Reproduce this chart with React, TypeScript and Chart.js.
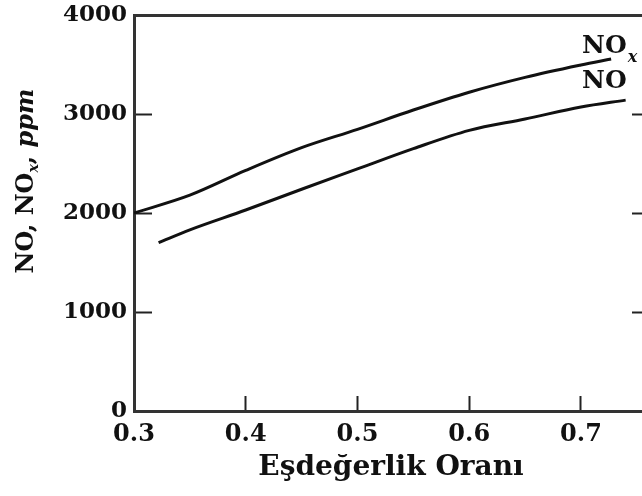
import { useEffect, useRef } from "react";
import { Chart, registerables } from "chart.js";

Chart.register(...registerables);

// ---- data ----
const X_TICKS = [0.3, 0.4, 0.5, 0.6, 0.7];
const Y_TICKS = [0, 1000, 2000, 3000, 4000];

const NOX_PHI = [0.3, 0.35, 0.4, 0.45, 0.5, 0.55, 0.6, 0.65, 0.7, 0.727];
const NOX_PPM = [2000, 2180, 2430, 2660, 2845, 3040, 3220, 3370, 3495, 3556];

const NO_PHI = [0.322, 0.35, 0.4, 0.45, 0.5, 0.55, 0.6, 0.65, 0.7, 0.74];
const NO_PPM = [1700, 1830, 2030, 2240, 2445, 2650, 2835, 2950, 3070, 3140];

const X_TITLE = "Eşdeğerlik Oranı";
const Y_TITLE_MAIN = "NO, NO";
const Y_TITLE_SUB = "x";
const Y_TITLE_SEP = ", ";
const Y_TITLE_UNIT = "ppm";
const SERIES_MAIN = "NO";
const SERIES_SUB = "x";

// label anchors (data space)
const LABEL_PHI = 0.701;
const NOX_LABEL_PPM = 3616;
const NO_LABEL_PPM = 3263;

const X_MIN = 0.3;
const X_MAX = 0.76;
const Y_MIN = 0;
const Y_MAX = 4000;

const SERIF = "'DejaVu Serif', 'Liberation Serif', serif";
const INK = "#111";
const AXIS = "#333";
const TICK = "#222";

const noPad = (s: any) => {
  s.paddingTop = 0;
  s.paddingBottom = 0;
  s.paddingLeft = 0;
  s.paddingRight = 0;
};

const annotate = {
  id: "annotate",
  afterDraw(chart: any) {
    const { ctx, scales, chartArea } = chart;
    const xs = scales.x;
    const ys = scales.y;
    ctx.save();
    ctx.fillStyle = INK;
    ctx.textAlign = "left";
    ctx.textBaseline = "alphabetic";

    // series labels near line ends
    const lx = xs.getPixelForValue(LABEL_PHI);
    const yNox = ys.getPixelForValue(NOX_LABEL_PPM);
    const yNo = ys.getPixelForValue(NO_LABEL_PPM);
    ctx.font = `bold 25px ${SERIF}`;
    ctx.fillText(SERIES_MAIN, lx, yNox);
    const w = ctx.measureText(SERIES_MAIN).width;
    ctx.font = `italic bold 16px ${SERIF}`;
    ctx.fillText(SERIES_SUB, lx + w + 1, yNox + 9);
    ctx.font = `bold 25px ${SERIF}`;
    ctx.fillText(SERIES_MAIN, lx, yNo);

    // rotated y title
    const fMain = `bold 24px ${SERIF}`;
    const fSub = `italic bold 14px ${SERIF}`;
    const fUnit = `italic bold 24px ${SERIF}`;
    const parts = [
      { t: Y_TITLE_MAIN, f: fMain, dy: 0 },
      { t: Y_TITLE_SUB, f: fSub, dy: 5 },
      { t: Y_TITLE_SEP, f: fMain, dy: 0 },
      { t: Y_TITLE_UNIT, f: fUnit, dy: 0 },
    ];
    let total = 0;
    const widths = parts.map((p) => {
      ctx.font = p.f;
      const ww = ctx.measureText(p.t).width;
      total += ww;
      return ww;
    });
    const cx = chartArea.left - 101;
    const cy = chartArea.top + 166;
    ctx.translate(cx, cy);
    ctx.rotate(-Math.PI / 2);
    let px = -total / 2;
    parts.forEach((p, i) => {
      ctx.font = p.f;
      ctx.fillText(p.t, px, p.dy);
      px += widths[i];
    });
    ctx.restore();
  },
};

export default function App() {
  const ref = useRef<HTMLCanvasElement | null>(null);

  useEffect(() => {
    if (!ref.current) return;
    const W = ref.current.width;
    const lineStyle = {
      borderColor: INK,
      borderWidth: 3,
      pointRadius: 0,
      tension: 0.4,
      cubicInterpolationMode: "monotone",
      fill: false,
    };
    const chart = new Chart(ref.current, {
      type: "line",
      data: {
        datasets: [
          {
            label: "NOx",
            data: NOX_PHI.map((x, i) => ({ x, y: NOX_PPM[i] })),
            ...lineStyle,
          },
          {
            label: "NO",
            data: NO_PHI.map((x, i) => ({ x, y: NO_PPM[i] })),
            ...lineStyle,
          },
        ],
      },
      options: {
        responsive: false,
        animation: false,
        layout: { padding: { top: 15, left: 0, right: W - 648, bottom: 0 } },
        plugins: {
          legend: { display: false },
          tooltip: { enabled: false },
        },
        scales: {
          x: {
            type: "linear",
            position: "bottom",
            min: X_MIN,
            max: X_MAX,
            afterBuildTicks: (s: any) => {
              s.ticks = X_TICKS.map((v) => ({ value: v }));
            },
            afterFit: (s: any) => {
              s.height = 85;
              noPad(s);
            },
            grid: {
              display: true,
              drawOnChartArea: false,
              drawTicks: true,
              tickLength: -15,
              tickColor: TICK,
              tickWidth: 2,
            },
            border: { display: true, color: AXIS, width: 3 },
            ticks: {
              color: INK,
              padding: 24,
              maxRotation: 0,
              autoSkip: false,
              font: { family: SERIF, size: 24, weight: "bold" },
              callback: (v: any) => Number(v).toFixed(1),
            },
            title: {
              display: true,
              text: X_TITLE,
              color: INK,
              font: { family: SERIF, size: 28, weight: "bold" },
              padding: { top: 0, bottom: 11 },
            },
          },
          x2: {
            type: "linear",
            position: "top",
            min: X_MIN,
            max: X_MAX,
            afterFit: (s: any) => {
              s.height = 0;
              noPad(s);
            },
            grid: { display: false },
            ticks: { display: false },
            border: { display: true, color: AXIS, width: 3 },
          },
          y: {
            type: "linear",
            position: "left",
            min: Y_MIN,
            max: Y_MAX,
            afterBuildTicks: (s: any) => {
              s.ticks = Y_TICKS.map((v) => ({ value: v }));
            },
            afterFit: (s: any) => {
              s.width = 134;
              noPad(s);
            },
            grid: {
              display: true,
              drawOnChartArea: false,
              drawTicks: true,
              tickLength: -18,
              tickColor: TICK,
              tickWidth: 2,
            },
            border: { display: true, color: AXIS, width: 3 },
            ticks: {
              color: INK,
              padding: 25,
              autoSkip: false,
              font: { family: SERIF, size: 23, weight: "bold" },
              callback: (v: any) => String(v),
            },
          },
          y2: {
            type: "linear",
            position: "right",
            min: Y_MIN,
            max: Y_MAX,
            afterBuildTicks: (s: any) => {
              s.ticks = Y_TICKS.map((v) => ({ value: v }));
            },
            afterFit: (s: any) => {
              s.width = 0;
              noPad(s);
            },
            grid: {
              display: true,
              drawOnChartArea: false,
              drawTicks: true,
              tickLength: -16,
              tickColor: TICK,
              tickWidth: 2,
            },
            border: { display: true, color: AXIS, width: 3 },
            ticks: { display: false },
          },
        },
      },
      plugins: [annotate],
    } as any);
    return () => chart.destroy();
  }, []);

  return (
    <div
      style={{
        position: "absolute",
        left: 0,
        top: 0,
        width: 642,
        height: 496,
        overflow: "hidden",
        background: "#fff",
      }}
    >
      <canvas ref={ref} width={680} height={496} style={{ display: "block" }} />
    </div>
  );
}
